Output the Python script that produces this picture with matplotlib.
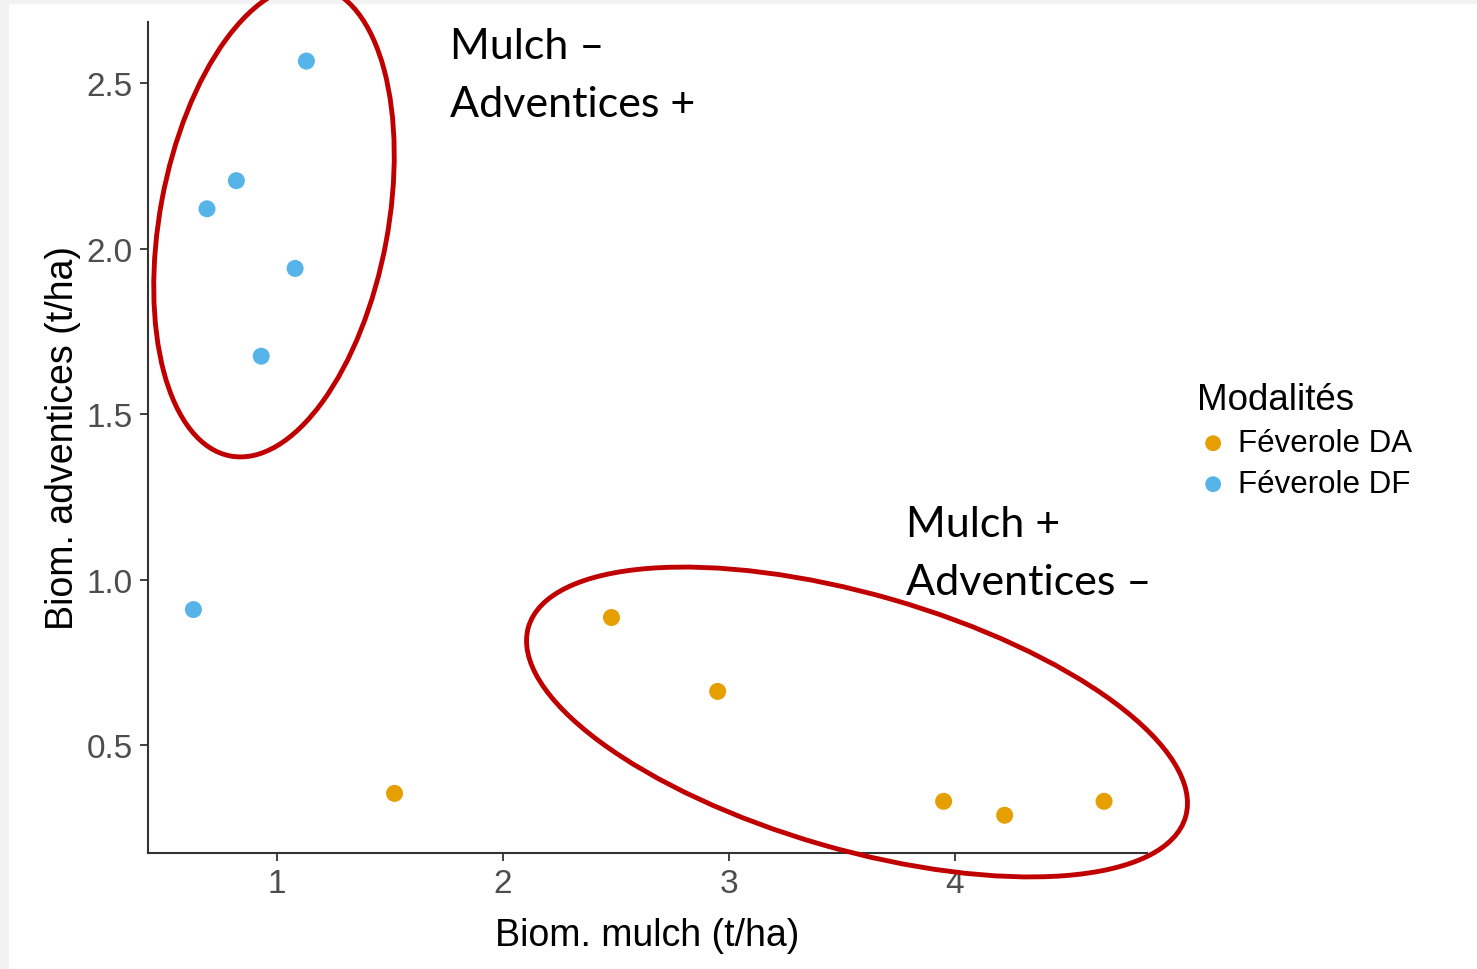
import matplotlib
matplotlib.use("Agg")
import matplotlib.pyplot as plt
from matplotlib.patches import Ellipse, Rectangle

# data
da_x = [1.52, 2.48, 2.95, 3.95, 4.22, 4.66]
da_y = [0.355, 0.886, 0.663, 0.331, 0.289, 0.331]
df_x = [1.13, 0.82, 0.69, 1.08, 0.93, 0.63]
df_y = [2.566, 2.205, 2.120, 1.940, 1.675, 0.910]
groups = ["Féverole DA", "Féverole DF"]

ORANGE = "#E69F00"
BLUE = "#56B4E9"
RED = "#C00000"
AXIS = "#333333"

W, H = 1477, 970
fig = plt.figure(figsize=(W / 100, H / 100), dpi=100, facecolor="#f2f2f2")
fig.patches.append(Rectangle((9 / W, 0), 1, (H - 5) / H, transform=fig.transFigure,
                             facecolor="white", edgecolor="none", zorder=-10))

ax = fig.add_axes([148 / W, (H - 854) / H, (1147 - 148) / W, (854 - 23) / H])
ax.set_facecolor("none")
ax.scatter(da_x, da_y, s=150, color=ORANGE, edgecolors="none", label=groups[0], zorder=3)
ax.scatter(df_x, df_y, s=150, color=BLUE, edgecolors="none", label=groups[1], zorder=3)

ax.set_xlim(0.429, 4.85)
ax.set_ylim(0.175, 2.684)
ax.set_xticks([1, 2, 3, 4])
ax.set_yticks([0.5, 1.0, 1.5, 2.0, 2.5])
ax.set_yticklabels(["0.5", "1.0", "1.5", "2.0", "2.5"])
for s in ["top", "right"]:
    ax.spines[s].set_visible(False)
for s in ["left", "bottom"]:
    ax.spines[s].set_color(AXIS)
    ax.spines[s].set_linewidth(1.5)
ax.tick_params(length=6, width=1.3, color=AXIS, labelsize=24, labelcolor="#4d4d4d",
               pad=5)
for lab in ax.get_xticklabels() + ax.get_yticklabels():
    lab.set_family("Liberation Sans")

ax.set_xlabel("Biom. mulch (t/ha)", fontsize=27, family="Liberation Sans", labelpad=13)
ax.set_ylabel("Biom. adventices (t/ha)", fontsize=27, family="Liberation Sans", labelpad=4)

leg = ax.legend(title="Modalités", loc="upper left", bbox_to_anchor=(1185 / W, (H - 371) / H),
                bbox_transform=fig.transFigure, frameon=False, handletextpad=0.3,
                handlelength=1.0, labelspacing=0.35, borderaxespad=0,
                prop={"family": "Liberation Sans", "size": 22.5},
                title_fontproperties={"family": "Liberation Sans", "size": 26.5})
leg._legend_box.align = "left"
for h in leg.legend_handles:
    h.set_sizes([130])

# overlay for the hand-drawn annotations (pixel coordinates)
ov = fig.add_axes([0, 0, 1, 1], facecolor="none")
ov.set_xlim(0, W)
ov.set_ylim(H, 0)
ov.axis("off")
ov.add_patch(Ellipse((274, 222), 228, 478, angle=10.5, fill=False,
                     edgecolor=RED, linewidth=3.5))
ov.add_patch(Ellipse((857, 723), 684, 255, angle=16.1, fill=False,
                     edgecolor=RED, linewidth=3.5))
for x, y, txt in [(450, 47, "Mulch –"), (450, 105, "Adventices +"),
                  (906, 525, "Mulch +"), (906, 583, "Adventices –")]:
    ov.text(x, y, txt, fontsize=31, family="Lato", va="center", ha="left")

fig.savefig("out.png", dpi=100, facecolor=fig.get_facecolor())
